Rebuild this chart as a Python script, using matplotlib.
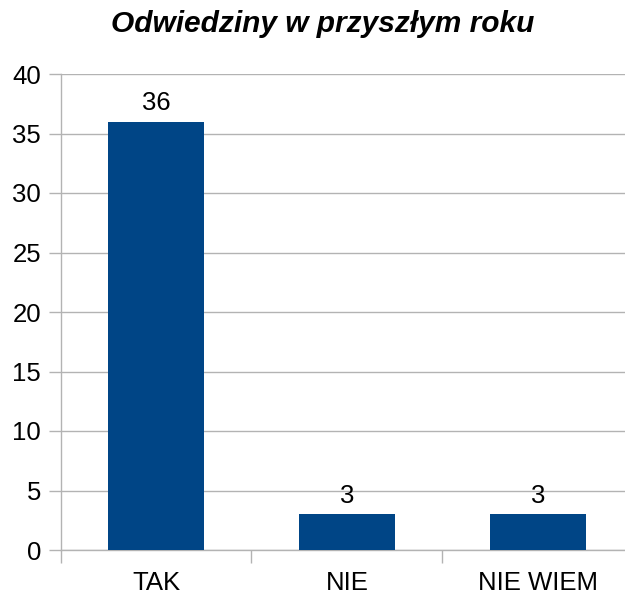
import matplotlib
matplotlib.use("Agg")
import matplotlib.pyplot as plt

categories = ["TAK", "NIE", "NIE WIEM"]
values = [36, 3, 3]
yticks = [0, 5, 10, 15, 20, 25, 30, 35, 40]

plt.rcParams['font.family'] = ['Liberation Sans', 'DejaVu Sans']

fig = plt.figure(figsize=(6.25, 5.98), dpi=100)
# plot area runs a little past the right edge of the picture
ax = fig.add_axes([60.5 / 625, 48 / 598, 573 / 625, 476 / 598])

grid_col = "#b3b3b3"
x = list(range(len(categories)))
bars = ax.bar(x, values, width=0.503, color="#004586", zorder=3)

for xi, v in zip(x, values):
    ax.text(xi, v + 0.55, str(v), ha="center", va="bottom", fontsize=18.5, zorder=4)

ax.set_ylim(0, 40)
ax.set_xlim(-0.5, 2.5)
ax.set_yticks(yticks)
ax.yaxis.grid(True, color=grid_col, linewidth=1, zorder=0)

ax.set_xticks([-0.5, 0.5, 1.5, 2.5], minor=False)
ax.set_xticklabels([])
ax.set_xticks(x, minor=True)
ax.set_xticklabels(categories, minor=True, fontsize=18.5)
ax.tick_params(axis="x", which="minor", length=0, pad=15)
ax.tick_params(axis="x", which="major", length=9, color=grid_col, width=1)
ax.tick_params(axis="y", length=9, color=grid_col, width=1, labelsize=18.5, pad=5)

for s in ["top", "right"]:
    ax.spines[s].set_visible(False)
for s in ["left", "bottom"]:
    ax.spines[s].set_color(grid_col)
    ax.spines[s].set_linewidth(1)

fig.text(323 / 625, 1 - 24 / 598, "Odwiedziny w przyszłym roku", ha="center", va="center",
         fontsize=21.5, fontweight="bold", fontstyle="italic")

fig.savefig("out.png", dpi=100)
